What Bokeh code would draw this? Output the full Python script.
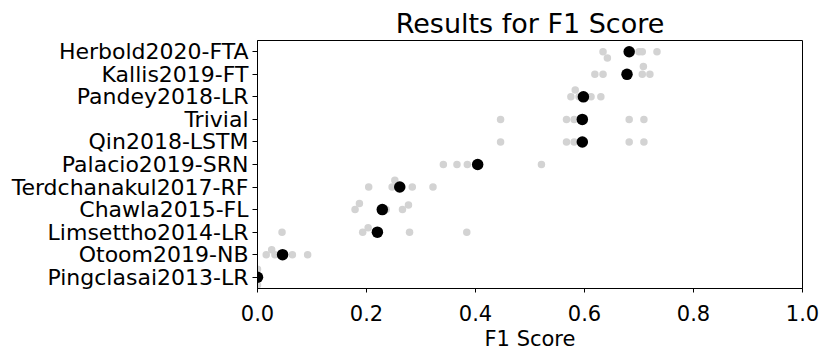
from bokeh.plotting import figure
from bokeh.models import ColumnDataSource, FixedTicker, Range1d
from bokeh.embed import file_html
from bokeh.resources import INLINE

# ---- data ----
models = ["Herbold2020-FTA", "Kallis2019-FT", "Pandey2018-LR", "Trivial",
          "Qin2018-LSTM", "Palacio2019-SRN", "Terdchanakul2017-RF",
          "Chawla2015-FL", "Limsettho2014-LR", "Otoom2019-NB",
          "Pingclasai2013-LR"]
mean_f1 = [0.682, 0.678, 0.598, 0.596, 0.596, 0.404, 0.261, 0.229, 0.220, 0.046, 0.0]
fold_f1 = [
    [0.634, 0.642, 0.700, 0.706, 0.733],
    [0.619, 0.634, 0.706, 0.708, 0.720],
    [0.575, 0.583, 0.590, 0.612, 0.630],
    [0.446, 0.567, 0.581, 0.682, 0.709],
    [0.446, 0.567, 0.581, 0.682, 0.709],
    [0.341, 0.366, 0.385, 0.407, 0.521],
    [0.204, 0.247, 0.252, 0.284, 0.322],
    [0.179, 0.187, 0.236, 0.266, 0.277],
    [0.045, 0.193, 0.203, 0.279, 0.384],
    [0.016, 0.026, 0.032, 0.064, 0.092],
    [0.0, 0.0, 0.0, 0.0, 0.0],
]
# small vertical strip-plot jitter seen in the picture (in row units)
fold_jitter = [
    [0, 0.28, 0, 0, 0],
    [0, 0, 0, -0.35, 0],
    [0, -0.3, 0, 0, 0],
    [0, 0, 0, 0, 0],
    [0, 0, 0, 0, 0],
    [0, 0, 0, 0, 0],
    [0, 0, -0.3, 0, 0],
    [0, -0.27, 0, 0, -0.2],
    [0, 0, -0.2, 0, 0],
    [0, -0.22, 0, 0, 0],
    [-0.35, -0.1, 0.1, 0.35, 0],
]
x_ticks = [0.0, 0.2, 0.4, 0.6, 0.8, 1.0]

FONT = "DejaVu Sans"

rows = list(range(len(models)))
gx, gy = [], []
for i, (vals, jit) in enumerate(zip(fold_f1, fold_jitter)):
    for v, j in zip(vals, jit):
        gx.append(v)
        gy.append(i + j)

gray_src = ColumnDataSource(dict(x=gx, y=gy))
mean_src = ColumnDataSource(dict(x=mean_f1, y=rows))

p = figure(width=831, height=359, output_backend="svg", toolbar_location=None,
           x_range=Range1d(0, 1), y_range=Range1d(len(models) - 0.5, -0.5),
           min_border_left=257, min_border_right=29, min_border_top=40,
           min_border_bottom=71, title="Results for F1 Score")

p.scatter("x", "y", source=gray_src, size=7.5, fill_color="#d3d3d3",
          line_color=None)
p.scatter("x", "y", source=mean_src, size=11.5, fill_color="black",
          line_color=None)

p.title.align = "center"
p.title.text_font = FONT
p.title.text_font_size = "27px"
p.title.text_font_style = "normal"
p.title.text_color = "black"
p.title.standoff = 4

p.xgrid.visible = False
p.ygrid.visible = False
p.outline_line_color = "black"
p.outline_line_alpha = 1
p.outline_line_width = 1

p.xaxis.ticker = FixedTicker(ticks=x_ticks)
p.xaxis.major_label_overrides = {t: f"{t:.1f}" for t in x_ticks}
p.xaxis.axis_label = "F1 Score"
p.xaxis.axis_label_text_font = FONT
p.xaxis.axis_label_text_font_size = "21px"
p.xaxis.axis_label_text_font_style = "normal"
p.xaxis.axis_label_standoff = 3
p.xaxis.major_label_text_font = FONT
p.xaxis.major_label_text_font_size = "21px"
p.xaxis.major_label_standoff = 12
p.xaxis.major_tick_out = 4

p.yaxis.ticker = FixedTicker(ticks=rows)
p.yaxis.major_label_overrides = {i: m for i, m in enumerate(models)}
p.yaxis.major_label_text_font = FONT
p.yaxis.major_label_text_font_size = "22px"
p.yaxis.major_label_standoff = 4
p.yaxis.major_tick_out = 5

for ax in (p.xaxis, p.yaxis):
    ax.minor_tick_line_color = None
    ax.major_tick_in = 0
    ax.axis_line_color = "black"
    ax.major_tick_line_color = "black"
    ax.major_label_text_color = "black"
    ax.axis_label_text_color = "black"

open("out.html", "w").write(file_html(p, INLINE))
